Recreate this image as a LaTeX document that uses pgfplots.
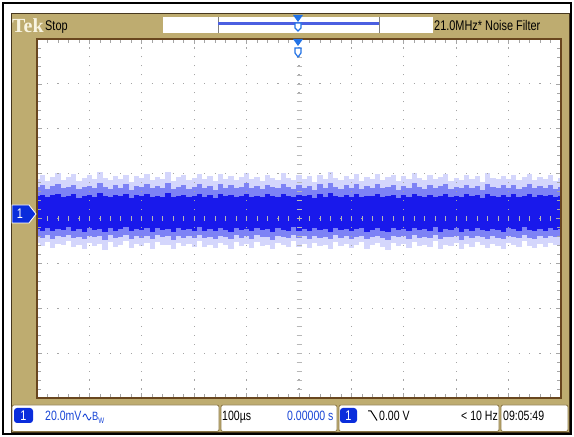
\documentclass[border=0pt]{standalone}
\usepackage{pgfplots}
\pgfplotsset{compat=1.18}
\usepackage{pgfplotstable}
\usepackage{fontspec}
\setmainfont{Liberation Sans}
\newfontfamily\nar[FakeStretch=0.78]{Liberation Sans}
\newfontfamily\tekf{Liberation Serif}

\definecolor{scopeTan}{RGB}{190,172,112}
\definecolor{frameDark}{RGB}{70,55,30}
\definecolor{plotBorder}{RGB}{105,70,30}
\definecolor{gridGray}{RGB}{165,165,165}
\definecolor{faintBlue}{RGB}{212,214,252}
\definecolor{medBlue}{RGB}{125,130,245}
\definecolor{coreBlue}{RGB}{25,25,235}
\definecolor{badge}{RGB}{10,45,220}
\definecolor{trig}{RGB}{35,115,230}
\definecolor{txtblue}{RGB}{25,70,215}
\definecolor{recline}{RGB}{75,95,225}
\definecolor{boxEdge}{RGB}{140,120,70}
\definecolor{tekCream}{RGB}{248,244,225}

\pgfplotstableread{
x ft fb mt mb ct cb
0.0 0.88 -0.55 0.70 -0.40 0.50 -0.24
0.1 0.97 -0.62 0.74 -0.43 0.53 -0.27
0.2 0.84 -0.52 0.66 -0.37 0.47 -0.21
0.3 0.93 -0.66 0.72 -0.45 0.52 -0.28
0.4 1.01 -0.57 0.77 -0.39 0.55 -0.23
0.5 0.86 -0.60 0.68 -0.42 0.49 -0.25
0.6 0.92 -0.50 0.71 -0.36 0.51 -0.20
0.7 0.99 -0.64 0.75 -0.44 0.54 -0.27
0.8 0.83 -0.59 0.65 -0.41 0.46 -0.24
0.9 0.90 -0.68 0.70 -0.46 0.50 -0.29
1.0 0.96 -0.54 0.73 -0.38 0.53 -0.22
1.1 0.87 -0.61 0.67 -0.42 0.48 -0.26
1.2 1.03 -0.56 0.78 -0.40 0.56 -0.23
1.3 0.91 -0.70 0.71 -0.47 0.51 -0.30
1.4 0.85 -0.53 0.66 -0.37 0.47 -0.21
1.5 0.95 -0.63 0.74 -0.44 0.52 -0.27
1.6 0.89 -0.58 0.69 -0.41 0.50 -0.24
1.7 0.98 -0.51 0.76 -0.36 0.54 -0.20
1.8 0.82 -0.65 0.64 -0.45 0.46 -0.28
1.9 0.94 -0.57 0.72 -0.40 0.52 -0.23
2.0 0.90 -0.62 0.70 -0.43 0.50 -0.26
2.1 1.00 -0.55 0.77 -0.39 0.55 -0.22
2.2 0.86 -0.67 0.67 -0.46 0.48 -0.29
2.3 0.93 -0.52 0.72 -0.37 0.51 -0.21
2.4 0.88 -0.60 0.68 -0.42 0.49 -0.25
2.5 1.04 -0.58 0.79 -0.40 0.56 -0.24
2.6 0.84 -0.69 0.65 -0.47 0.47 -0.30
2.7 0.92 -0.54 0.71 -0.38 0.51 -0.22
2.8 0.97 -0.61 0.75 -0.43 0.53 -0.26
2.9 0.85 -0.56 0.66 -0.40 0.47 -0.23
3.0 0.91 -0.64 0.70 -0.44 0.50 -0.27
3.1 0.99 -0.50 0.76 -0.36 0.54 -0.20
3.2 0.87 -0.63 0.68 -0.44 0.49 -0.27
3.3 0.94 -0.59 0.73 -0.41 0.52 -0.24
3.4 0.83 -0.66 0.64 -0.45 0.46 -0.28
3.5 1.00 -0.55 0.77 -0.39 0.55 -0.22
3.6 0.89 -0.60 0.69 -0.42 0.50 -0.25
3.7 0.95 -0.68 0.74 -0.46 0.53 -0.29
3.8 0.86 -0.53 0.67 -0.37 0.48 -0.21
3.9 0.92 -0.62 0.71 -0.43 0.51 -0.26
4.0 1.02 -0.57 0.78 -0.40 0.55 -0.23
4.1 0.88 -0.65 0.68 -0.45 0.49 -0.28
4.2 0.93 -0.52 0.72 -0.37 0.51 -0.21
4.3 0.84 -0.61 0.65 -0.42 0.47 -0.25
4.4 0.97 -0.58 0.75 -0.41 0.54 -0.24
4.5 0.90 -0.69 0.70 -0.47 0.50 -0.30
4.6 0.86 -0.54 0.67 -0.38 0.48 -0.22
4.7 1.01 -0.60 0.77 -0.42 0.55 -0.25
4.8 0.91 -0.64 0.71 -0.44 0.51 -0.27
4.9 0.85 -0.51 0.66 -0.36 0.47 -0.20
5.0 0.96 -0.63 0.74 -0.44 0.53 -0.27
5.1 0.89 -0.57 0.69 -0.40 0.50 -0.23
5.2 0.94 -0.66 0.73 -0.45 0.52 -0.28
5.3 0.82 -0.55 0.64 -0.39 0.46 -0.22
5.4 0.98 -0.61 0.76 -0.43 0.54 -0.26
5.5 0.87 -0.59 0.68 -0.41 0.49 -0.24
5.6 1.03 -0.67 0.78 -0.46 0.56 -0.29
5.7 0.90 -0.52 0.70 -0.37 0.50 -0.21
5.8 0.85 -0.62 0.66 -0.43 0.47 -0.26
5.9 0.95 -0.56 0.74 -0.40 0.53 -0.23
6.0 0.88 -0.65 0.69 -0.45 0.49 -0.28
6.1 0.99 -0.58 0.76 -0.41 0.54 -0.24
6.2 0.84 -0.53 0.65 -0.38 0.47 -0.21
6.3 0.93 -0.68 0.72 -0.46 0.51 -0.29
6.4 0.89 -0.60 0.69 -0.42 0.50 -0.25
6.5 1.00 -0.55 0.77 -0.39 0.55 -0.22
6.6 0.86 -0.63 0.67 -0.44 0.48 -0.27
6.7 0.92 -0.70 0.71 -0.47 0.51 -0.30
6.8 0.97 -0.54 0.75 -0.38 0.53 -0.22
6.9 0.83 -0.61 0.64 -0.42 0.46 -0.26
7.0 0.94 -0.57 0.73 -0.40 0.52 -0.23
7.1 0.88 -0.66 0.68 -0.45 0.49 -0.28
7.2 1.02 -0.52 0.78 -0.37 0.55 -0.21
7.3 0.90 -0.62 0.70 -0.43 0.50 -0.26
7.4 0.85 -0.59 0.66 -0.41 0.47 -0.24
7.5 0.96 -0.64 0.74 -0.44 0.53 -0.27
7.6 0.87 -0.50 0.68 -0.36 0.49 -0.20
7.7 0.93 -0.67 0.72 -0.46 0.51 -0.29
7.8 0.99 -0.58 0.76 -0.41 0.54 -0.24
7.9 0.84 -0.61 0.65 -0.42 0.47 -0.25
8.0 0.91 -0.55 0.71 -0.39 0.51 -0.22
8.1 0.86 -0.69 0.67 -0.47 0.48 -0.30
8.2 0.98 -0.57 0.75 -0.40 0.54 -0.23
8.3 0.89 -0.63 0.69 -0.44 0.50 -0.27
8.4 0.94 -0.53 0.73 -0.38 0.52 -0.21
8.5 0.82 -0.60 0.64 -0.42 0.46 -0.25
8.6 1.01 -0.65 0.77 -0.45 0.55 -0.28
8.7 0.90 -0.56 0.70 -0.40 0.50 -0.23
8.8 0.87 -0.62 0.68 -0.43 0.49 -0.26
8.9 0.95 -0.68 0.74 -0.46 0.53 -0.29
9.0 0.88 -0.54 0.69 -0.38 0.49 -0.22
9.1 0.97 -0.59 0.75 -0.41 0.54 -0.24
9.2 0.85 -0.64 0.66 -0.44 0.47 -0.27
9.3 0.92 -0.51 0.71 -0.36 0.51 -0.20
9.4 1.00 -0.61 0.77 -0.43 0.55 -0.26
9.5 0.86 -0.66 0.67 -0.45 0.48 -0.28
9.6 0.93 -0.57 0.72 -0.40 0.52 -0.23
9.7 0.89 -0.63 0.69 -0.44 0.50 -0.27
9.8 0.96 -0.55 0.74 -0.39 0.53 -0.22
9.9 0.84 -0.60 0.65 -0.42 0.47 -0.25
10.0 0.91 -0.58 0.71 -0.41 0.51 -0.24
}\noise

\begin{document}
\begin{tikzpicture}
% page and frame
\begin{scope}[x=1pt,y=1pt]
\fill[white] (0,0) rectangle (574,437);
\draw[black, line width=2.5pt] (3,3) rectangle (571,434);
\fill[scopeTan, draw=frameDark, line width=0.8pt] (11,4.5) rectangle (569,424);
\end{scope}

\begin{axis}[
  at={(37pt,39pt)}, anchor=south west,
  scale only axis, width=524pt, height=359pt,
  xmin=0, xmax=10, ymin=-4, ymax=4,
  axis background/.style={fill=white},
  axis on top,
  axis line style={draw=plotBorder, line width=1.6pt},
  xtick={0,...,10}, ytick={-4,...,4},
  minor x tick num=4, minor y tick num=4,
  xticklabels={}, yticklabels={},
  tick align=inside, tick pos=both,
  major tick length=5pt, minor tick length=4pt,
  every tick/.style={gridGray, line width=0.7pt},
  grid=major,
  major x grid style={gridGray, line width=1.1pt, dash pattern=on 1.1pt off 7.875pt, dash phase=0.55pt},
  major y grid style={gridGray, line width=1.1pt, dash pattern=on 1.1pt off 9.38pt, dash phase=0.55pt},
  comb/.style={ycomb, no marks, line width=5.3pt},
]
\addplot[comb, faintBlue] table[x=x, y=ft]{\noise};
\addplot[comb, faintBlue] table[x=x, y=fb]{\noise};
\addplot[comb, medBlue] table[x=x, y=mt]{\noise};
\addplot[comb, medBlue] table[x=x, y=mb]{\noise};
\addplot[comb, coreBlue] table[x=x, y=ct]{\noise};
\addplot[comb, coreBlue] table[x=x, y=cb]{\noise};
\end{axis}

\begin{scope}[x=1pt,y=1pt]
% centre cross ticks
\begin{scope}[shift={(37,39)}, x=52.4pt, y=44.875pt]
  \foreach \i in {1,...,39} {
    \draw[gridGray!80, line width=0.7pt] ([xshift=-2.5pt]5,{\i*0.2}) -- ([xshift=2.5pt]5,{\i*0.2});
  }
  \foreach \i in {1,...,49} {
    \draw[gridGray!80, line width=0.7pt] ([yshift=-2.5pt]{\i*0.2},4) -- ([yshift=2.5pt]{\i*0.2},4);
  }
\end{scope}

% top status bar
\node[anchor=base west, inner sep=0, text=tekCream] at (12,404) {\tekf\bfseries\fontsize{20}{20}\selectfont Tek};
\node[anchor=base west, inner sep=0] at (45,406) {\nar\fontsize{14}{14}\selectfont Stop};
\fill[white] (163,404) rectangle (433,420);
\draw[gray, line width=1pt] (218,404) -- (218,420);
\draw[gray, line width=1pt] (379,404) -- (379,420);
\draw[recline, line width=3pt] (218,413) -- (379,413);
\node[anchor=base west, inner sep=0] at (434,406) {\nar\fontsize{14}{14}\selectfont 21.0MHz* Noise Filter};

% trigger markers
\fill[trig] (293,422) -- (303,422) -- (298,415) -- cycle;
\draw[trig, fill=white, line width=1.2pt] (295,414) -- (301,414) -- (301,409) -- (298,406) -- (295,409) -- cycle;
\fill[trig] (293,398) -- (303,398) -- (298,391) -- cycle;
\draw[trig, fill=white, line width=1.2pt] (295,389) -- (301,389) -- (301,384) -- (298,380) -- (295,384) -- cycle;

% channel 1 marker
\draw[white, fill=badge, line width=0.8pt] (12,214) -- (29,214) -- (36,223) -- (29,232) -- (12,232) -- cycle;
\node[text=white, inner sep=0] at (20,223) {\nar\fontsize{14}{14}\selectfont 1};

% bottom status boxes
\draw[fill=white, draw=boxEdge, line width=0.8pt, rounded corners=2pt] (12,5.5) rectangle (219,32);
\draw[fill=white, draw=boxEdge, line width=0.8pt, rounded corners=2pt] (221,5.5) rectangle (337,32);
\draw[fill=white, draw=boxEdge, line width=0.8pt, rounded corners=2pt] (339,5.5) rectangle (499,32);
\draw[fill=white, draw=boxEdge, line width=0.8pt, rounded corners=2pt] (501,5.5) rectangle (568,32);

\fill[badge, rounded corners=3pt] (14,14) rectangle (33,29);
\node[text=white, inner sep=0] at (23.5,21.5) {\nar\fontsize{14}{14}\selectfont 1};
\node[anchor=base west, inner sep=0, text=txtblue] at (45,16) {\nar\fontsize{13.5}{13.5}\selectfont 20.0mV};
\draw[txtblue, line width=0.9pt] (83,20) sin (85,23) cos (87,20) sin (89,17) cos (91,20);
\node[anchor=base west, inner sep=0, text=txtblue] at (92,16) {\nar\fontsize{12}{12}\selectfont B\raisebox{-2.5pt}{\fontsize{8}{8}\selectfont W}};

\node[anchor=base west, inner sep=0] at (222,16) {\nar\fontsize{13.5}{13.5}\selectfont 100µs};
\node[anchor=base west, inner sep=0, text=txtblue] at (287,16) {\nar\fontsize{13.5}{13.5}\selectfont 0.00000 s};

\fill[badge, rounded corners=3pt] (340,14) rectangle (357,29);
\node[text=white, inner sep=0] at (348.5,21.5) {\nar\fontsize{14}{14}\selectfont 1};
\draw[black, line width=1pt] (368,26) -- (371,26) -- (377,16.5);
\node[anchor=base west, inner sep=0] at (379,16) {\nar\fontsize{13.5}{13.5}\selectfont 0.00 V};
\node[anchor=base west, inner sep=0] at (461,16) {\nar\fontsize{13.5}{13.5}\selectfont < 10 Hz};
\node[anchor=base west, inner sep=0] at (503,16) {\nar\fontsize{13.5}{13.5}\selectfont 09:05:49};
\end{scope}
\end{tikzpicture}
\end{document}
